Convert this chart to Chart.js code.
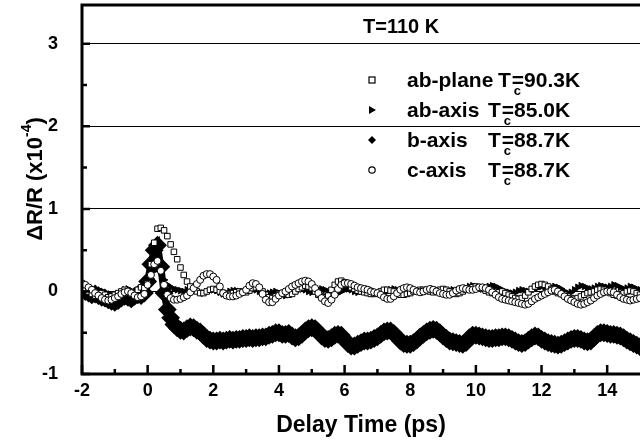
<!DOCTYPE html>
<html>
<head>
<meta charset="utf-8">
<script src="https://cdn.jsdelivr.net/npm/chart.js@4.4.1/dist/chart.umd.min.js"></script>
<style>
  html, body { margin: 0; padding: 0; background: #fff; }
  #wrap { width: 640px; height: 443px; position: relative; }
</style>
</head>
<body>
<div id="wrap"><canvas id="c" width="640" height="443"></canvas></div>
<script>
// ---- data (delay times in ps, sampled every 0.1 ps from -2 to 15) ----
const tStart = -2.0, tStep = 0.1, tCount = 171;
const delayTimes = [];
for (let i = 0; i < tCount; i++) delayTimes.push(Math.round((tStart + i * tStep) * 10) / 10);

// ab-plane, Tc = 90.3 K (open squares)
const abPlane = [
  0.05, 0.04, 0.00, -0.03, -0.05, -0.04, -0.02, -0.04, -0.07, -0.06,
  -0.04, -0.02, 0.00, 0.02, 0.00, -0.03, -0.02, 0.02, 0.05, 0.04,
  0.10, 0.33, 0.59, 0.76, 0.77, 0.74, 0.67, 0.57, 0.48, 0.39,
  0.29, 0.20, 0.12, 0.06, 0.02, 0.00, -0.02, -0.02, 0.00, 0.02,
  0.03, 0.02, 0.00, -0.02, -0.03, -0.03, -0.02, -0.01, 0.00, 0.00,
  -0.01, 0.01, 0.04, 0.05, 0.04, 0.00, -0.04, -0.07, -0.08, -0.06,
  -0.03, -0.02, -0.03, -0.04, -0.03, 0.00, 0.03, 0.05, 0.07, 0.06,
  0.04, 0.00, -0.04, -0.06, -0.07, -0.05, 0.02, 0.08, 0.12, 0.13,
  0.11, 0.08, 0.05, 0.03, 0.01, 0.00, -0.01, -0.02, -0.03, -0.03,
  -0.02, 0.00, 0.02, 0.02, 0.01, 0.00, -0.02, -0.04, -0.04, -0.03,
  -0.02, 0.00, 0.01, 0.02, 0.02, 0.01, 0.00, -0.01, 0.00, 0.02,
  0.03, 0.02, 0.00, -0.02, -0.03, -0.02, 0.00, 0.02, 0.04, 0.05,
  0.06, 0.05, 0.03, 0.01, -0.01, -0.02, -0.02, -0.01, 0.00, -0.02,
  -0.04, -0.06, -0.08, -0.09, -0.08, -0.05, -0.01, 0.03, 0.06, 0.08,
  0.09, 0.08, 0.06, 0.03, 0.00, -0.02, -0.03, -0.04, -0.06, -0.08,
  -0.09, -0.08, -0.06, -0.04, -0.02, -0.01, 0.00, 0.02, 0.03, 0.02,
  0.00, -0.02, -0.04, -0.05, -0.04, -0.02, 0.00, 0.01, 0.00, -0.02,
  -0.04
];

// ab-axis, Tc = 85.0 K (filled right triangles)
const abAxis = [
  0.03, 0.02, 0.00, -0.02, -0.03, -0.02, 0.00, -0.02, -0.04, -0.05,
  -0.05, -0.03, -0.01, 0.02, 0.03, 0.01, -0.02, -0.01, 0.01, 0.02,
  0.06, 0.15, 0.25, 0.30, 0.24, 0.14, 0.08, 0.05, 0.03, 0.02,
  0.01, 0.00, 0.02, 0.04, 0.03, 0.01, -0.01, -0.02, -0.01, 0.01,
  0.02, 0.01, -0.01, -0.03, -0.02, 0.00, 0.01, 0.01, 0.00, -0.01,
  0.00, 0.02, 0.03, 0.02, 0.00, -0.02, -0.03, -0.02, -0.01, 0.00,
  -0.02, -0.04, -0.05, -0.04, -0.02, 0.00, 0.02, 0.03, 0.02, 0.00,
  -0.01, 0.00, 0.02, 0.03, 0.02, 0.00, -0.02, -0.03, -0.02, 0.00,
  0.02, 0.03, 0.02, 0.00, -0.01, 0.00, 0.02, 0.03, 0.02, 0.00,
  -0.02, -0.03, -0.02, 0.00, 0.02, 0.03, 0.02, 0.00, -0.01, 0.00,
  0.01, 0.02, 0.01, 0.00, -0.01, 0.00, 0.02, 0.03, 0.02, 0.00,
  -0.01, 0.00, 0.01, 0.02, 0.01, 0.00, 0.02, 0.04, 0.06, 0.07,
  0.06, 0.04, 0.03, 0.04, 0.06, 0.07, 0.06, 0.04, 0.02, 0.00,
  -0.01, -0.02, -0.01, 0.01, 0.02, 0.01, 0.00, 0.01, 0.03, 0.05,
  0.06, 0.05, 0.04, 0.05, 0.06, 0.05, 0.03, 0.00, -0.02, -0.01,
  0.02, 0.05, 0.07, 0.06, 0.04, 0.03, 0.04, 0.06, 0.07, 0.06,
  0.05, 0.06, 0.08, 0.07, 0.05, 0.03, 0.04, 0.06, 0.05, 0.03,
  0.02
];

// b-axis, Tc = 88.7 K (filled diamonds)
const bAxis = [
  0.02, 0.00, -0.02, -0.04, -0.03, -0.05, -0.07, -0.08, -0.10, -0.12,
  -0.13, -0.11, -0.08, -0.06, -0.07, -0.09, -0.06, -0.04, -0.05, -0.02,
  0.12, 0.33, 0.50, 0.56, 0.30, -0.02, -0.22, -0.32, -0.40, -0.44,
  -0.47, -0.48, -0.45, -0.43, -0.44, -0.47, -0.49, -0.53, -0.57, -0.59,
  -0.60, -0.60, -0.59, -0.60, -0.59, -0.58, -0.59, -0.58, -0.58, -0.57,
  -0.57, -0.56, -0.57, -0.56, -0.56, -0.55, -0.55, -0.53, -0.52, -0.50,
  -0.50, -0.52, -0.52, -0.51, -0.54, -0.56, -0.55, -0.52, -0.48, -0.45,
  -0.44, -0.45, -0.49, -0.54, -0.57, -0.58, -0.56, -0.53, -0.52, -0.53,
  -0.58, -0.63, -0.66, -0.66, -0.64, -0.62, -0.60, -0.60, -0.59, -0.57,
  -0.55, -0.52, -0.49, -0.48, -0.48, -0.51, -0.55, -0.60, -0.63, -0.64,
  -0.64, -0.62, -0.59, -0.55, -0.52, -0.49, -0.47, -0.46, -0.47, -0.50,
  -0.54, -0.57, -0.60, -0.61, -0.62, -0.63, -0.64, -0.62, -0.56, -0.53,
  -0.53, -0.54, -0.55, -0.56, -0.57, -0.57, -0.56, -0.56, -0.55, -0.55,
  -0.56, -0.58, -0.60, -0.62, -0.63, -0.62, -0.59, -0.56, -0.54, -0.55,
  -0.58, -0.60, -0.62, -0.63, -0.64, -0.65, -0.64, -0.62, -0.60, -0.58,
  -0.57, -0.57, -0.58, -0.60, -0.61, -0.60, -0.56, -0.52, -0.50, -0.50,
  -0.51, -0.52, -0.52, -0.53, -0.54, -0.56, -0.59, -0.61, -0.63, -0.65,
  -0.67
];

// c-axis, Tc = 88.7 K (open circles)
const cAxis = [
  0.10, 0.08, 0.05, 0.02, -0.02, -0.05, -0.08, -0.10, -0.11, -0.10,
  -0.08, -0.06, -0.03, -0.01, 0.00, -0.02, -0.05, -0.07, -0.06, -0.03,
  0.08, 0.20, 0.33, 0.37, 0.25, 0.08, -0.04, -0.08, -0.10, -0.10,
  -0.09, -0.07, -0.05, -0.01, 0.04, 0.09, 0.14, 0.19, 0.21, 0.21,
  0.18, 0.14, 0.06, -0.02, -0.05, -0.06, -0.06, -0.05, -0.03, -0.01,
  0.02, 0.07, 0.10, 0.09, 0.05, -0.03, -0.10, -0.13, -0.13, -0.09,
  -0.05, -0.02, 0.00, 0.03, 0.06, 0.08, 0.10, 0.12, 0.13, 0.12,
  0.09, 0.04, -0.02, -0.08, -0.12, -0.14, -0.10, -0.04, 0.03, 0.08,
  0.10, 0.10, 0.09, 0.07, 0.05, 0.04, 0.03, 0.02, 0.00, -0.01,
  -0.02, -0.04, -0.07, -0.09, -0.09, -0.06, -0.02, 0.02, 0.04, 0.05,
  0.04, 0.02, 0.00, -0.01, 0.00, 0.02, 0.03, 0.02, 0.00, -0.02,
  -0.03, -0.04, -0.04, -0.02, 0.01, 0.03, 0.04, 0.03, 0.02, 0.02,
  0.03, 0.05, 0.05, 0.04, 0.02, -0.01, -0.04, -0.07, -0.09, -0.10,
  -0.11, -0.12, -0.13, -0.14, -0.15, -0.16, -0.15, -0.12, -0.09, -0.07,
  -0.05, -0.03, -0.01, 0.01, 0.02, 0.00, -0.03, -0.06, -0.09, -0.11,
  -0.13, -0.15, -0.16, -0.15, -0.13, -0.11, -0.08, -0.05, -0.03, -0.01,
  0.00, 0.00, -0.01, -0.04, -0.07, -0.09, -0.10, -0.11, -0.10, -0.09,
  -0.08
];

// ---- axes / tick labels ----
const xMajorTicks = [-2, 0, 2, 4, 6, 8, 10, 12, 14];
const xMinorTicks = [-1, 1, 3, 5, 7, 9, 11, 13];
const yMajorTicks = [-1, 0, 1, 2, 3];
const yMinorTicks = [-0.5, 0.5, 1.5, 2.5];
const xRange = [-2, 15];
const yRange = [-1, 3.47];
const xTitle = 'Delay Time (ps)';
const yTitleMain = 'ΔR/R (x10';
const yTitleExp = '-4';
const tempLabel = 'T=110 K';
const legendNames = ['ab-plane', 'ab-axis', 'b-axis', 'c-axis'];
const legendTc = ['=90.3K', '=85.0K', '=88.7K', '=88.7K'];

const FONT = '"Liberation Sans", Arial, Helvetica, sans-serif';

function pts(vals) { return vals.map((v, i) => ({ x: delayTimes[i], y: v })); }

const decoPlugin = {
  id: 'deco',
  afterDraw(chart) {
    const { ctx, chartArea: ca } = chart;
    const xs = chart.scales.x, ys = chart.scales.y;
    ctx.save();
    ctx.strokeStyle = '#000';
    ctx.fillStyle = '#000';
    // frame (left, bottom, top)
    ctx.lineWidth = 3;
    ctx.beginPath();
    ctx.moveTo(ca.left - 1.5, ca.top); ctx.lineTo(ca.right, ca.top);
    ctx.moveTo(ca.left, ca.top); ctx.lineTo(ca.left, ca.bottom + 1.5);
    ctx.moveTo(ca.left - 1.5, ca.bottom); ctx.lineTo(ca.right, ca.bottom);
    ctx.stroke();
    // inward ticks
    ctx.lineWidth = 2.5;
    ctx.beginPath();
    xMajorTicks.forEach(v => { const p = xs.getPixelForValue(v); ctx.moveTo(p, ca.bottom); ctx.lineTo(p, ca.bottom - 9); });
    xMinorTicks.forEach(v => { const p = xs.getPixelForValue(v); ctx.moveTo(p, ca.bottom); ctx.lineTo(p, ca.bottom - 5); });
    yMajorTicks.forEach(v => { const p = ys.getPixelForValue(v); ctx.moveTo(ca.left, p); ctx.lineTo(ca.left + 8, p); });
    yMinorTicks.forEach(v => { const p = ys.getPixelForValue(v); ctx.moveTo(ca.left, p); ctx.lineTo(ca.left + 5, p); });
    ctx.stroke();

    // y axis title (rotated)
    ctx.save();
    ctx.translate(42, 179);
    ctx.rotate(-Math.PI / 2);
    ctx.font = 'bold 22px ' + FONT;
    ctx.textBaseline = 'alphabetic';
    const wMain = ctx.measureText(yTitleMain).width;
    ctx.font = 'bold 14px ' + FONT;
    const wExp = ctx.measureText(yTitleExp).width;
    ctx.font = 'bold 22px ' + FONT;
    const wClose = ctx.measureText(')').width;
    const total = wMain + wExp + wClose;
    let x0 = -total / 2;
    ctx.textAlign = 'left';
    ctx.fillText(yTitleMain, x0, 0);
    ctx.font = 'bold 14px ' + FONT;
    ctx.fillText(yTitleExp, x0 + wMain, -11);
    ctx.font = 'bold 22px ' + FONT;
    ctx.fillText(')', x0 + wMain + wExp, 0);
    ctx.restore();

    // temperature label
    ctx.font = 'bold 20px ' + FONT;
    ctx.textAlign = 'left';
    ctx.textBaseline = 'alphabetic';
    ctx.fillText(tempLabel, 363, 33);

    // legend
    const rowY = [87, 117, 147, 177];
    const tX = [498, 488, 488, 488];
    const mx = 372;
    legendNames.forEach((name, i) => {
      const by = rowY[i];
      const my = by - 7;
      ctx.lineWidth = 1.2;
      ctx.beginPath();
      if (i === 0) {
        ctx.fillStyle = '#fff'; ctx.fillRect(mx - 3, my - 3, 6, 6);
        ctx.strokeRect(mx - 3, my - 3, 6, 6);
      } else if (i === 1) {
        ctx.fillStyle = '#000';
        ctx.moveTo(mx - 3, my - 4); ctx.lineTo(mx + 4, my); ctx.lineTo(mx - 3, my + 4); ctx.closePath(); ctx.fill();
      } else if (i === 2) {
        ctx.fillStyle = '#000';
        ctx.moveTo(mx, my - 4); ctx.lineTo(mx + 4, my); ctx.lineTo(mx, my + 4); ctx.lineTo(mx - 4, my); ctx.closePath(); ctx.fill();
      } else {
        ctx.fillStyle = '#fff';
        ctx.arc(mx, my, 3.2, 0, Math.PI * 2); ctx.fill(); ctx.stroke();
      }
      ctx.fillStyle = '#000';
      ctx.font = 'bold 21px ' + FONT;
      ctx.fillText(name, 407, by);
      ctx.fillText('T', tX[i], by);
      const wT = ctx.measureText('T').width;
      ctx.fillText(legendTc[i], tX[i] + wT + 1, by);
      ctx.font = 'bold 13px ' + FONT;
      ctx.fillText('c', tX[i] + wT + 3, by + 8);
    });
    ctx.restore();
  }
};

new Chart(document.getElementById('c'), {
  type: 'scatter',
  data: {
    datasets: [
      { label: 'c-axis', data: pts(cAxis), order: 1, pointStyle: 'circle', pointRadius: 3.5,
        backgroundColor: '#fff', borderColor: '#000', borderWidth: 1, showLine: false },
      { label: 'ab-plane', data: pts(abPlane), order: 2, pointStyle: 'rect', pointRadius: 3.9,
        backgroundColor: '#fff', borderColor: '#000', borderWidth: 1, showLine: false },
      { label: 'ab-axis', data: pts(abAxis), order: 3, pointStyle: 'triangle', rotation: 90, pointRadius: 3.8,
        backgroundColor: '#000', borderColor: '#000', borderWidth: 1, showLine: false },
      { label: 'b-axis', data: pts(bAxis), order: 4, pointStyle: 'rectRot', pointRadius: 4.5,
        backgroundColor: '#000', borderColor: '#000', borderWidth: 7, showLine: true, tension: 0 }
    ]
  },
  options: {
    responsive: false,
    animation: false,
    devicePixelRatio: 1,
    layout: { autoPadding: false, padding: { top: 5, right: 0, left: 0, bottom: 0 } },
    plugins: { legend: { display: false }, tooltip: { enabled: false } },
    elements: { point: { hoverRadius: 4 } },
    scales: {
      x: {
        type: 'linear', min: xRange[0], max: xRange[1],
        afterBuildTicks: s => { s.ticks = xMajorTicks.map(v => ({ value: v })); },
        afterFit: s => { s.height = 69; s.paddingLeft = 0; s.paddingRight = 0; s.paddingTop = 0; s.paddingBottom = 0; },
        grid: { display: false, drawTicks: false },
        border: { display: false },
        ticks: { color: '#000', font: { family: FONT, weight: 'bold', size: 18 }, padding: 6, maxRotation: 0,
                 callback: v => String(v) },
        title: { display: true, text: xTitle, color: '#000', font: { family: FONT, weight: 'bold', size: 23 },
                 padding: { top: 0, bottom: 4 } }
      },
      y: {
        type: 'linear', min: yRange[0], max: yRange[1],
        afterBuildTicks: s => { s.ticks = yMajorTicks.map(v => ({ value: v })); },
        afterFit: s => { s.width = 82; s.paddingLeft = 0; s.paddingRight = 0; s.paddingTop = 0; s.paddingBottom = 0; },
        grid: { drawTicks: false, lineWidth: 1,
                color: c => (c.tick && c.tick.value === -1) ? 'rgba(0,0,0,0)' : '#000' },
        border: { display: false },
        ticks: { color: '#000', font: { family: FONT, weight: 'bold', size: 18 }, padding: 24,
                 callback: v => String(v) }
      }
    }
  },
  plugins: [decoPlugin]
});
</script>
</body>
</html>
